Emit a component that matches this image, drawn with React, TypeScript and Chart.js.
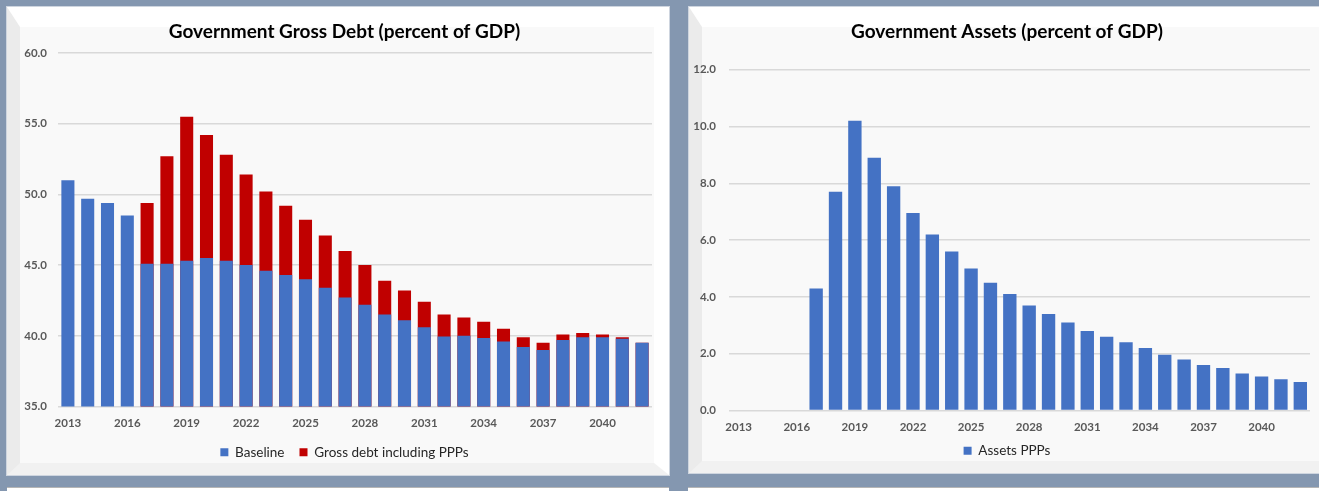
import React, { useEffect, useRef } from "react";
import { Chart, registerables } from "chart.js";

Chart.register(...registerables);

// ---- Data ----
const years = [
  "2013", "2014", "2015", "2016", "2017", "2018", "2019", "2020", "2021", "2022",
  "2023", "2024", "2025", "2026", "2027", "2028", "2029", "2030", "2031", "2032",
  "2033", "2034", "2035", "2036", "2037", "2038", "2039", "2040", "2041", "2042",
];

const baseline = [
  51.0, 49.7, 49.4, 48.5, 45.1, 45.1, 45.3, 45.5, 45.3, 45.0,
  44.6, 44.3, 44.0, 43.4, 42.7, 42.2, 41.5, 41.1, 40.6, 39.95,
  40.0, 39.85, 39.6, 39.2, 39.0, 39.7, 39.9, 39.9, 39.8, 39.5,
];

const grossDebtInclPPPs = [
  null, null, null, null, 49.4, 52.7, 55.5, 54.2, 52.8, 51.4,
  50.2, 49.2, 48.2, 47.1, 46.0, 45.0, 43.9, 43.2, 42.4, 41.5,
  41.3, 41.0, 40.5, 39.9, 39.5, 40.1, 40.2, 40.1, 39.9, 39.5,
];

const assetsPPPs = [
  null, null, null, null, 4.3, 7.7, 10.2, 8.9, 7.9, 6.95,
  6.2, 5.6, 5.0, 4.5, 4.1, 3.7, 3.4, 3.1, 2.8, 2.6,
  2.4, 2.2, 1.96, 1.8, 1.6, 1.5, 1.3, 1.2, 1.1, 1.0,
];

const debtAxis = { min: 35, max: 60, step: 5 };
const assetsAxis = { min: 0, max: 12, step: 2 };
const xLabelEvery = 3;

// ---- Styles ----
const FONT = "Lato, 'Open Sans', 'Noto Sans', sans-serif";
const BLUE = "#4472C4";
const RED = "#C00000";
const TICK_COLOR = "#595959";
const GRID_COLOR = "#d9d9d9";

function tickFont() {
  return { family: FONT, size: 11.5, weight: "bold" as const };
}

function makeOptions(cfg: {
  title: string;
  rightGap: number;
  bottomPad: number;
  titlePadTop: number;
  titlePadBottom: number;
  legendPad: number;
  xHeight: number;
  yWidth: number;
  yPad: number;
  axis: { min: number; max: number; step: number };
}) {
  return {
    responsive: false,
    animation: false as const,
    devicePixelRatio: 1,
    layout: { padding: { left: 0, right: 0, top: 0, bottom: cfg.bottomPad } },
    plugins: {
      title: {
        display: true,
        text: cfg.title,
        color: "#000000",
        font: { family: FONT, size: 19, weight: "bold" as const },
        padding: { top: cfg.titlePadTop, bottom: cfg.titlePadBottom },
      },
      legend: {
        position: "bottom" as const,
        labels: {
          boxWidth: 8,
          boxHeight: 8,
          padding: cfg.legendPad,
          color: "#262626",
          font: { family: FONT, size: 13.5 },
        },
      },
      tooltip: { enabled: false },
    },
    scales: {
      x: {
        grid: { display: false, drawTicks: false },
        border: { display: false },
        ticks: {
          autoSkip: false,
          maxRotation: 0,
          minRotation: 0,
          padding: 10,
          color: TICK_COLOR,
          font: tickFont(),
          callback: (_v: any, i: number) => (i % xLabelEvery === 0 ? years[i] : ""),
        },
        afterFit: (s: any) => {
          s.height = cfg.xHeight;
        },
      },
      y: {
        position: "left" as const,
        min: cfg.axis.min,
        max: cfg.axis.max,
        ticks: {
          stepSize: cfg.axis.step,
          padding: cfg.yPad,
          color: TICK_COLOR,
          font: tickFont(),
          callback: (v: any) => Number(v).toFixed(1),
        },
        grid: { color: GRID_COLOR, lineWidth: 1.5, drawTicks: false },
        border: { display: false },
        afterFit: (s: any) => {
          s.width = cfg.yWidth;
        },
      },
      // empty spacer on the right so the title/legend stay centred on the panel
      gap: {
        type: "linear" as const,
        axis: "y" as const,
        position: "right" as const,
        grid: { display: false, drawTicks: false },
        border: { display: false },
        ticks: { display: false },
        afterFit: (s: any) => {
          s.width = cfg.rightGap;
        },
      },
    },
  };
}

function DebtChart() {
  const ref = useRef<HTMLCanvasElement | null>(null);
  useEffect(() => {
    if (!ref.current) return;
    const chart = new Chart(ref.current, {
      type: "bar",
      data: {
        labels: years,
        datasets: [
          {
            label: "Baseline",
            data: baseline,
            backgroundColor: BLUE,
            grouped: false,
            yAxisID: "y",
            barPercentage: 0.66,
            categoryPercentage: 1,
          },
          {
            label: "Gross debt including PPPs",
            data: grossDebtInclPPPs,
            backgroundColor: RED,
            grouped: false,
            yAxisID: "y",
            barPercentage: 0.66,
            categoryPercentage: 1,
          },
        ],
      },
      options: makeOptions({
        title: "Government Gross Debt (percent of GDP)",
        rightGap: 16,
        bottomPad: 6,
        titlePadTop: 13.6,
        titlePadBottom: 9.6,
        legendPad: 15,
        xHeight: 24,
        yWidth: 37,
        yPad: 11,
        axis: debtAxis,
      }) as any,
    });
    return () => chart.destroy();
  }, []);
  return (
    <canvas
      ref={ref}
      width={647}
      height={468}
      style={{ position: "absolute", left: 21, top: 7, width: 647, height: 468 }}
    />
  );
}

function AssetsChart() {
  const ref = useRef<HTMLCanvasElement | null>(null);
  useEffect(() => {
    if (!ref.current) return;
    const chart = new Chart(ref.current, {
      type: "bar",
      data: {
        labels: years,
        datasets: [
          {
            label: "Assets PPPs",
            data: assetsPPPs,
            backgroundColor: BLUE,
            yAxisID: "y",
            barPercentage: 0.69,
            categoryPercentage: 1,
          },
        ],
      },
      options: makeOptions({
        title: "Government Assets (percent of GDP)",
        rightGap: 14,
        bottomPad: 5.5,
        titlePadTop: 13.6,
        titlePadBottom: 26.3,
        legendPad: 9.5,
        xHeight: 24,
        yWidth: 39,
        yPad: 13,
        axis: assetsAxis,
      }) as any,
    });
    return () => chart.destroy();
  }, []);
  return (
    <canvas
      ref={ref}
      width={634}
      height={466}
      style={{ position: "absolute", left: 690, top: 7, width: 634, height: 466 }}
    />
  );
}

function Panel(props: { left: number; top: number; width: number; height: number }) {
  return (
    <div
      style={{
        position: "absolute",
        left: props.left,
        top: props.top,
        width: props.width,
        height: props.height,
        boxSizing: "border-box",
        background: "#f9f9f9",
        borderLeft: "13px solid #ebebeb",
        borderTop: "20px solid #ffffff",
        borderRight: "15px solid #ffffff",
        borderBottom: "12px solid #f1f1f1",
        boxShadow: "0 0 0 1px rgba(255,255,255,0.6)",
      }}
    />
  );
}

export default function App() {
  return (
    <div
      style={{
        position: "fixed",
        left: 0,
        top: 0,
        width: 1319,
        height: 491,
        overflow: "hidden",
        background: "#8497b0",
      }}
    >
      <Panel left={7} top={7} width={662} height={468} />
      <Panel left={689} top={7} width={645} height={466} />
      <div style={{ position: "absolute", left: 7, top: 487, width: 662, height: 10, background: "#ffffff", borderTop: "1px solid #b5b5b5", boxSizing: "border-box" }} />
      <div style={{ position: "absolute", left: 688, top: 487, width: 640, height: 10, background: "#ffffff", borderTop: "1px solid #b5b5b5", boxSizing: "border-box" }} />
      <DebtChart />
      <AssetsChart />
    </div>
  );
}
